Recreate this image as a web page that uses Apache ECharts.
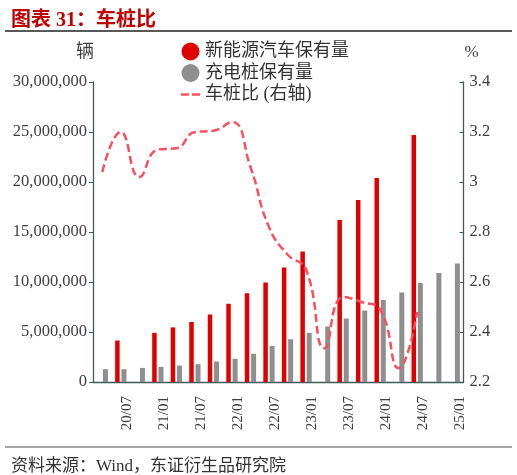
<!DOCTYPE html>
<html>
<head>
<meta charset="utf-8">
<script src="https://cdn.jsdelivr.net/npm/echarts@6/dist/echarts.min.js"></script>
<style>
html,body{margin:0;padding:0;background:#fff;}
#chart{width:517px;height:475px;}
</style>
</head>
<body>
<div id="chart"></div>
<script>
// Monthly category axis 20/02 .. 25/01
const startYear = 2020, startMonth = 2, monthCount = 60;
const categories = [];
for (let k = 0; k < monthCount; k++) {
  const m0 = startMonth - 1 + k;
  const yy = (startYear + Math.floor(m0 / 12)) % 100;
  const mm = (m0 % 12) + 1;
  categories.push(String(yy).padStart(2, '0') + '/' + String(mm).padStart(2, '0'));
}
const xTickLabels = ['20/07','21/01','21/07','22/01','22/07','23/01','23/07','24/01','24/07','25/01'];

// 新能源汽车保有量 (辆)
const nevDates = ['20/06','20/12','21/03','21/06','21/09','21/12','22/03','22/06','22/09','22/12','23/06','23/09','23/12','24/06'];
const nevValues = [4150000,4920000,5460000,6000000,6750000,7820000,8880000,9950000,11450000,13050000,16200000,18200000,20400000,24700000];

// 充电桩保有量 (辆)
const pileDates = ['20/03','20/06','20/09','20/12','21/03','21/06','21/09','21/12','22/03','22/06','22/09','22/12','23/03','23/06','23/09','23/12','24/03','24/06','24/09','24/12'];
const pileValues = [1280000,1280000,1410000,1510000,1640000,1780000,2040000,2320000,2820000,3600000,4280000,4920000,5550000,6350000,7150000,8200000,8950000,9900000,10900000,11850000];

// 车桩比 (右轴)
const ratioDates = ['20/03','20/06','20/09','20/12','21/03','21/06','21/09','21/12','22/03','22/06','22/09','22/12','23/03','23/06','23/09','23/12','24/03','24/06'];
const ratioValues = [3.04,3.20,3.02,3.13,3.135,3.20,3.205,3.24,3.06,2.82,2.71,2.65,2.335,2.54,2.52,2.49,2.255,2.48];

const leftTicks = {min: 0, max: 30000000, interval: 5000000};
const rightTicks = {min: 2.2, max: 3.4, interval: 0.2};

function fullSeries(dates, values) {
  const map = {};
  dates.forEach((d, i) => { map[d] = values[i]; });
  return categories.map(c => (c in map ? map[c] : null));
}

const serif = "'Liberation Serif','Noto Sans CJK SC',serif";
const axisColor = '#3E5C5C';
const labelColor = '#404040';
const lineColor = '#F8505E';
// two short dashes, drawn inside a 19x18 box
const dashIcon = 'path://M0,0M19,18M0,7.75L8,7.75L8,10.25L0,10.25ZM11,7.75L19,7.75L19,10.25L11,10.25Z';

const chart = echarts.init(document.getElementById('chart'));
chart.setOption({
  backgroundColor: '#fff',
  animation: false,
  title: [
    {text: '图表 31：车桩比', left: 6, top: 6,
     textStyle: {color: '#C00000', fontSize: 20, fontWeight: 'bold', fontFamily: serif}},
    {text: '资料来源：Wind，东证衍生品研究院', left: 6, top: 453,
     textStyle: {color: '#333', fontSize: 17, fontWeight: 'normal', fontFamily: serif}}
  ],
  graphic: [
    {type: 'line', shape: {x1: 5, y1: 31, x2: 512, y2: 31}, style: {stroke: '#222', lineWidth: 1.5}},
    {type: 'line', shape: {x1: 5, y1: 447, x2: 512, y2: 447}, style: {stroke: '#888', lineWidth: 1.5}}
  ],
  legend: {
    orient: 'vertical', left: 181, top: 42.5, padding: 0,
    itemWidth: 19, itemHeight: 18, itemGap: 3.5,
    textStyle: {fontSize: 18, color: '#333', fontFamily: serif},
    data: [
      {name: '新能源汽车保有量', icon: 'circle'},
      {name: '充电桩保有量', icon: 'circle'},
      {name: '车桩比 (右轴)', icon: dashIcon, itemStyle: {color: lineColor, borderWidth: 0}}
    ]
  },
  grid: {left: 93, right: 53.5, top: 82, bottom: 93, containLabel: false},
  xAxis: {
    type: 'category', data: categories, boundaryGap: true,
    axisLine: {lineStyle: {color: axisColor, width: 1.3}},
    axisTick: {inside: true, length: 4, lineStyle: {color: axisColor},
      interval: (idx) => idx === 12 || idx === 30 || idx === 48},
    axisLabel: {rotate: 90, margin: 14, fontSize: 15, color: labelColor, fontFamily: serif,
      interval: (idx, val) => xTickLabels.indexOf(val) >= 0}
  },
  yAxis: [
    {
      type: 'value', position: 'left', min: leftTicks.min, max: leftTicks.max, interval: leftTicks.interval,
      name: '辆', nameLocation: 'end', nameGap: 21,
      nameTextStyle: {fontSize: 18, color: labelColor, fontFamily: serif, align: 'center', padding: [0, 16, 0, 0]},
      axisLine: {show: true, lineStyle: {color: axisColor, width: 1.3}},
      axisTick: {show: true, inside: false, length: 4, lineStyle: {color: axisColor}},
      splitLine: {show: false},
      axisLabel: {margin: 6, fontSize: 16.5, color: labelColor, fontFamily: serif,
        formatter: v => Number(v).toLocaleString('en-US')}
    },
    {
      type: 'value', position: 'right', min: rightTicks.min, max: rightTicks.max, interval: rightTicks.interval,
      name: '%', nameLocation: 'end', nameGap: 21,
      nameTextStyle: {fontSize: 17, color: labelColor, fontFamily: serif, align: 'center', padding: [0, 0, 0, 16]},
      axisLine: {show: true, lineStyle: {color: axisColor, width: 1.3}},
      axisTick: {show: true, inside: true, length: 4, lineStyle: {color: axisColor}},
      splitLine: {show: false},
      axisLabel: {margin: 6, fontSize: 16.5, color: labelColor, fontFamily: serif,
        formatter: v => String(parseFloat(Number(v).toFixed(1)))}
    }
  ],
  series: [
    {
      name: '新能源汽车保有量', type: 'bar', yAxisIndex: 0,
      data: fullSeries(nevDates, nevValues),
      barWidth: 4.5, barGap: '40%',
      itemStyle: {color: '#E00000'}
    },
    {
      name: '充电桩保有量', type: 'bar', yAxisIndex: 0,
      data: fullSeries(pileDates, pileValues),
      barWidth: 5, barGap: '40%',
      itemStyle: {color: '#8F8F8F'}
    },
    {
      name: '车桩比 (右轴)', type: 'line', yAxisIndex: 1,
      data: ratioDates.map((d, i) => [d, ratioValues[i]]),
      smooth: 0.5, symbol: 'none', z: 5,
      itemStyle: {color: lineColor},
      lineStyle: {color: lineColor, width: 2.5, type: [8, 4]}
    }
  ]
});
</script>
</body>
</html>
